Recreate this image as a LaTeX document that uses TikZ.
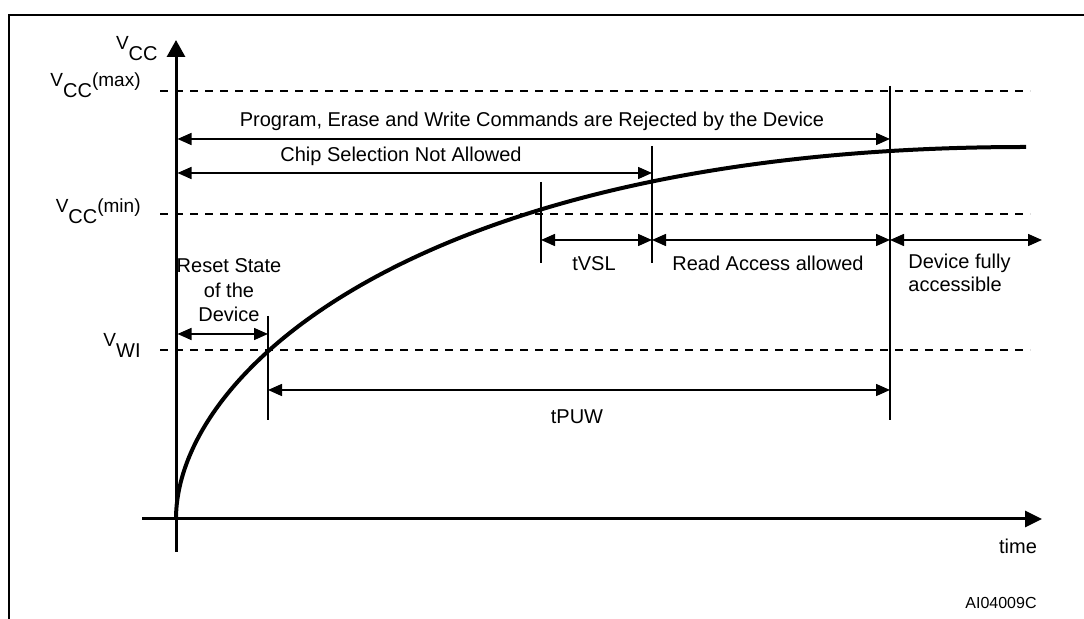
\documentclass[tikz,border=0pt]{standalone}
\usepackage{fontspec}
\setmainfont{Liberation Sans}
\usetikzlibrary{arrows.meta}
\newcommand\vlab[2]{{\fontsize{9.5}{11}\selectfont V}\raisebox{-5.25pt}{\fontsize{10}{12}\selectfont #1}{\fontsize{9.5}{11}\selectfont #2}}
\begin{document}
\begin{tikzpicture}[x=0.5pt,y=-0.5pt,
  frame/.style={line width=1.25pt},
  axisline/.style={line width=1.5pt},
  guide/.style={line width=0.7pt, dash pattern=on 4pt off 3.5pt},
  marker/.style={line width=0.75pt},
  span/.style={line width=0.75pt, {Triangle[length=7pt,width=6pt]}-{Triangle[length=7pt,width=6pt]}},
  ramp/.style={line width=2pt},
  lbl/.style={font=\fontsize{10}{11}\selectfont, inner sep=0pt},
  vl/.style={inner sep=0pt, anchor=base east}
]
\useasboundingbox (0,0) rectangle (1084,619);
\clip (0,0) rectangle (1084,619);
\fill[white] (0,0) rectangle (1084,619);

% frame
\coordinate (fbl) at (9,630);
\coordinate (ftl) at (9,15);
\coordinate (ftr) at (1095,15);
\draw[frame] (fbl) -- (ftl) -- (ftr);

% guide levels
\coordinate (gmaxl) at (160,91);  \coordinate (gmaxr) at (1030,91);
\coordinate (gminl) at (160,214); \coordinate (gminr) at (1030,214);
\coordinate (gwil) at (160,350);  \coordinate (gwir) at (1030,350);
\draw[guide] (gmaxl) -- (gmaxr);
\draw[guide] (gminl) -- (gminr);
\draw[guide] (gwil) -- (gwir);

% markers
\coordinate (m1t) at (268,316); \coordinate (m1b) at (268,420);
\coordinate (m2t) at (541,182); \coordinate (m2b) at (541,263);
\coordinate (m3t) at (652,146); \coordinate (m3b) at (652,263);
\coordinate (m4t) at (890,86);  \coordinate (m4b) at (890,420);
\draw[marker] (m1t) -- (m1b);
\draw[marker] (m2t) -- (m2b);
\draw[marker] (m3t) -- (m3b);
\draw[marker] (m4t) -- (m4b);

% spans
\coordinate (pl) at (177.5,139); \coordinate (pr) at (890,139);
\coordinate (cl) at (177.5,173); \coordinate (cr) at (652,173);
\coordinate (rl) at (177.5,334); \coordinate (rr) at (268,334);
\coordinate (tl) at (268,390);   \coordinate (tr) at (890,390);
\coordinate (s1) at (541,240); \coordinate (s2) at (652,240);
\coordinate (s3) at (890,240); \coordinate (s4) at (1042,240);
\draw[span] (pl) -- (pr);
\draw[span] (cl) -- (cr);
\draw[span] (rl) -- (rr);
\draw[span] (tl) -- (tr);
\draw[span] (s1) -- (s2);
\draw[span] (s2) -- (s3);
\draw[span] (s3) -- (s4);

% axes
\coordinate (O) at (176,519);
\coordinate (ybot) at (176,552); \coordinate (ytop) at (176,40);
\coordinate (xl) at (142,519);   \coordinate (xr) at (1042,519);
\draw[axisline, -{Triangle[length=8.5pt,width=9pt]}] (ybot) -- (ytop);
\draw[axisline, -{Triangle[length=8.5pt,width=8pt]}] (xl) -- (xr);

% supply ramp
\coordinate (rend) at (1026,147);
\draw[ramp] (O) .. controls (176,369) and (426,147) .. (rend);

% level labels
\node[vl] (vcc) at (158,50) {\vlab{CC}{}};
\node[vl] (vmax) at (141,87) {\vlab{CC}{(max)}};
\node[vl] (vmin) at (141,213) {\vlab{CC}{(min)}};
\node[vl] (vwi) at (141,347) {\vlab{WI}{}};

% texts
\node[lbl, anchor=base] (prog) at (532,127) {Program, Erase and Write Commands are Rejected by the Device};
\node[lbl, anchor=base] (chip) at (401,162) {Chip Selection Not Allowed};
\node[lbl, anchor=base] (tvsl) at (594,271) {tVSL};
\node[lbl, anchor=base] (read) at (768,271) {Read Access allowed};
\node[lbl, anchor=north west, align=left, font=\fontsize{10}{11.5}\selectfont] (full) at (908,254) {Device fully\\accessible};
\node[lbl, anchor=north, align=center, font=\fontsize{10}{12.25}\selectfont] (reset) at (229,258.5) {Reset State\\of the\\Device};
\node[lbl, anchor=base] (tpuw) at (577,424) {tPUW};
\node[lbl, anchor=base] (time) at (1018,554) {time};
\node[lbl, anchor=base, font=\fontsize{8}{9}\selectfont] (code) at (1001,609) {AI04009C};
\end{tikzpicture}
\end{document}
